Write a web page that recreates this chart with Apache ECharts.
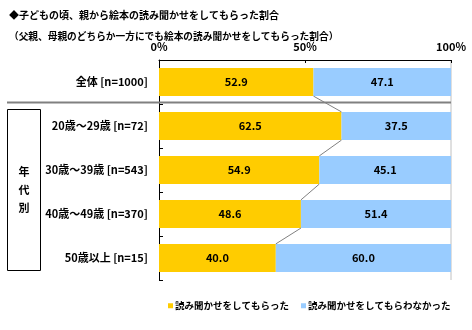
<!DOCTYPE html>
<html><head><meta charset="utf-8">
<script src="https://cdn.jsdelivr.net/npm/echarts@6/dist/echarts.min.js"></script>
<style>html,body{margin:0;padding:0;background:#fff}#c{width:472px;height:330px}</style>
</head><body><div id="c"></div>
<script>
const categories = ['全体 [n=1000]', '20歳～29歳 [n=72]', '30歳～39歳 [n=543]', '40歳～49歳 [n=370]', '50歳以上 [n=15]'];
const heard = [52.9, 62.5, 54.9, 48.6, 40.0];
const notHeard = [47.1, 37.5, 45.1, 51.4, 60.0];
const seriesNames = ['読み聞かせをしてもらった', '読み聞かせをしてもらわなかった'];
const xTicks = [0, 50, 100];
const titleText = '◆子どもの頃、親から絵本の読み聞かせをしてもらった割合';
const subText = '（父親、母親のどちらか一方にでも絵本の読み聞かせをしてもらった割合）';
const groupLabel = '年代別';

const FONT = '"Noto Sans CJK JP", sans-serif';
const chart = echarts.init(document.getElementById('c'));
const connectors = [];
for (let i = 0; i < heard.length - 1; i++) connectors.push([heard[i], i, heard[i + 1], i + 1]);

chart.setOption({
  animation: false,
  textStyle: { fontFamily: FONT },
  title: [
    { text: titleText, left: 4, top: 5, textStyle: { fontSize: 10, fontWeight: 'bold', color: '#000', fontFamily: FONT } },
    { text: subText, left: 4, top: 26, textStyle: { fontSize: 9.7, fontWeight: 'bold', color: '#000', fontFamily: FONT } }
  ],
  legend: {
    left: 163, top: 296, itemWidth: 5, itemHeight: 5, itemGap: 12, icon: 'rect',
    textStyle: { fontSize: 9.5, fontWeight: 'bold', color: '#000', fontFamily: FONT, padding: [0, 0, 0, -3] },
    data: seriesNames
  },
  grid: { left: 159, right: 21, top: 60, height: 220 },
  xAxis: {
    type: 'value', position: 'top', min: xTicks[0], max: xTicks[xTicks.length - 1], interval: 50,
    axisLine: { show: true, lineStyle: { color: '#000', width: 1 } },
    axisTick: { show: true, inside: true, length: 3, lineStyle: { color: '#000' } },
    splitLine: { show: false },
    axisLabel: { formatter: '{value}%', fontSize: 11, fontWeight: 'bold', color: '#000', margin: 8, fontFamily: FONT }
  },
  yAxis: {
    type: 'category', inverse: true, data: categories,
    axisLine: { show: true, lineStyle: { color: '#000', width: 1 } },
    axisTick: { show: true, inside: true, length: 4, lineStyle: { color: '#000' } },
    axisLabel: { fontSize: 11, fontWeight: 'bold', color: '#000', margin: 11, fontFamily: FONT }
  },
  series: [
    {
      name: seriesNames[0], type: 'bar', stack: 'a', data: heard, barCategoryGap: '36%',
      itemStyle: { color: '#FFCC00' },
      label: { show: true, position: 'inside', color: '#000', fontSize: 11, fontWeight: 'bold', fontFamily: FONT, formatter: p => p.value.toFixed(1) }
    },
    {
      name: seriesNames[1], type: 'bar', stack: 'a', data: notHeard,
      itemStyle: { color: '#99CCFF' },
      label: { show: true, position: 'inside', color: '#000', fontSize: 11, fontWeight: 'bold', fontFamily: FONT, formatter: p => p.value.toFixed(1) }
    },
    {
      type: 'custom', silent: true, z: 5,
      encode: { x: [0, 2], y: [1, 3] },
      data: connectors,
      renderItem: function (params, api) {
        const p1 = api.coord([api.value(0), api.value(1)]);
        const p2 = api.coord([api.value(2), api.value(3)]);
        const h = api.size([0, 1])[1] * 0.32;
        return { type: 'line', shape: { x1: p1[0], y1: p1[1] + h, x2: p2[0], y2: p2[1] - h }, style: { stroke: '#808080', lineWidth: 1 } };
      }
    }
  ],
  graphic: [
    { type: 'line', shape: { x1: 7, y1: 102.5, x2: 451, y2: 102.5 }, style: { stroke: '#808080', lineWidth: 2 }, z: 10 },
    { type: 'line', shape: { x1: 451, y1: 60, x2: 451, y2: 280 }, style: { stroke: '#c0c0c0', lineWidth: 1 } },
    { type: 'rect', shape: { x: 7.5, y: 109.5, width: 33, height: 161 }, style: { fill: 'none', stroke: '#000', lineWidth: 1 } },
    { type: 'text', x: 24, y: 190, style: { text: groupLabel.split('').join('\n'), fontSize: 11, fontWeight: 'bold', fill: '#000', align: 'center', verticalAlign: 'middle', lineHeight: 18, fontFamily: FONT } }
  ]
});
</script></body></html>
